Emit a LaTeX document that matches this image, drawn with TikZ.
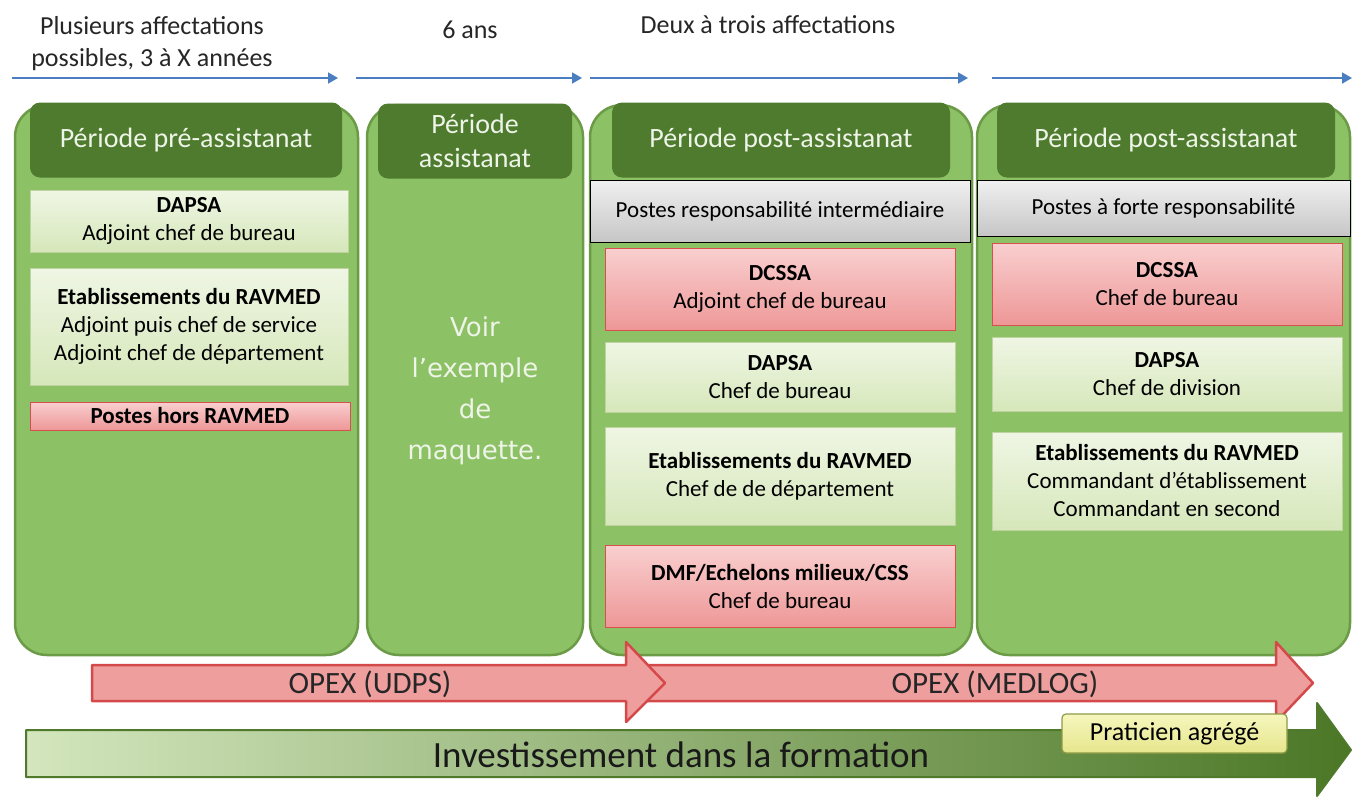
\documentclass[tikz,border=0pt]{standalone}
\usepackage{fontspec}
\setmainfont{Carlito}
\newfontfamily\voirfont{DejaVu Sans}
\usepackage{tikz}
\usetikzlibrary{arrows.meta}
\definecolor{panelgreen}{HTML}{8DC165}
\definecolor{panelline}{HTML}{6B9B47}
\definecolor{headgreen}{HTML}{4E7B2E}
\definecolor{headtext}{HTML}{EEF4E8}
\definecolor{postlight}{HTML}{EFF6E4}
\definecolor{postdark}{HTML}{D6E7BA}
\definecolor{postline}{HTML}{BFD3A0}
\definecolor{redlight}{HTML}{F9CFCF}
\definecolor{reddark}{HTML}{EE9797}
\definecolor{redline}{HTML}{D65050}
\definecolor{graylight}{HTML}{F0F0F0}
\definecolor{graydark}{HTML}{C6C6C6}
\definecolor{timeblue}{HTML}{4A7EC1}
\definecolor{arrowred}{HTML}{EF9E9E}
\definecolor{arrowredline}{HTML}{D44A4A}
\definecolor{formlight}{HTML}{D3E6BD}
\definecolor{formdark}{HTML}{4B7726}
\definecolor{formline}{HTML}{4F7A2B}
\definecolor{pratlight}{HTML}{F6F6BE}
\definecolor{pratdark}{HTML}{E6E68C}
\definecolor{pratline}{HTML}{8C9B45}
\tikzstyle{periode} = [draw=panelline, fill=panelgreen, line width=2.5pt, rounded corners=32pt, minimum height=550pt]
\tikzstyle{entete} = [fill=headgreen, text=headtext, rounded corners=10pt, align=center, inner sep=0pt, minimum height=75pt, font={\fontsize{28}{34}\selectfont}]
\tikzstyle{niveau} = [draw=black, line width=1pt, top color=graylight, bottom color=graydark, inner sep=0pt, font={\fontsize{23}{28}\selectfont}]
\tikzstyle{poste} = [draw=postline, top color=postlight, bottom color=postdark, align=center, inner sep=0pt, font={\fontsize{23}{28}\selectfont}]
\tikzstyle{horsposte} = [poste, draw=redline, line width=1pt, top color=redlight, bottom color=reddark]
\tikzstyle{duree} = [align=center, text=black!85, font={\fontsize{26}{32}\selectfont}]
\tikzstyle{frise} = [draw=timeblue, line width=1.8pt, -{Triangle[length=10pt,width=11pt]}]
\tikzstyle{opex} = [text=black!85, font={\fontsize{31}{36}\selectfont}]

\begin{document}
\begin{tikzpicture}[x=1pt,y=-1pt]
        \useasboundingbox (0,0) rectangle (1354,798);
        % durees et frise
        \node[duree](t1) at (152,44){Plusieurs affectations\\possibles, 3 à X années};
        \node[duree](t2) at (470,30){6 ans};
        \node[duree](t3) at (768,25){Deux à trois affectations};
        \coordinate (a0) at (12,78);
        \coordinate (a1) at (338,78);
        \coordinate (a2) at (356,78);
        \coordinate (a3) at (582,78);
        \coordinate (a4) at (590,78);
        \coordinate (a5) at (968,78);
        \coordinate (a6) at (992,78);
        \coordinate (a7) at (1352,78);
        \draw[frise](a0)--(a1);
        \draw[frise](a2)--(a3);
        \draw[frise](a4)--(a5);
        \draw[frise](a6)--(a7);
        % periodes
        \node[periode,minimum width=343pt](p1) at (186.5,380){};
        \node[periode,minimum width=216pt](p2) at (475,380){};
        \node[periode,minimum width=382pt](p3) at (781,380){};
        \node[periode,minimum width=373pt](p4) at (1163.5,380){};
        \node[entete,minimum width=312pt](e1) at (186,140){Période pré-assistanat};
        \node[entete,minimum width=194pt](e2) at (475,141){Période\\assistanat};
        \node[entete,minimum width=338pt](e3) at (781,140){Période post-assistanat};
        \node[entete,minimum width=338pt](e4) at (1166,140){Période post-assistanat};
        \node[niveau,minimum width=380pt,minimum height=62pt](n3) at (780,211){Postes responsabilité intermédiaire};
        \node[niveau,minimum width=373pt,minimum height=56pt](n4) at (1163.5,208){Postes à forte responsabilité};
        % pre-assistanat
        \node[poste,minimum width=318pt,minimum height=62pt](b1) at (189,221){\textbf{DAPSA}\\Adjoint chef de bureau};
        \node[poste,minimum width=318pt,minimum height=117pt](b2) at (189,326.5){\textbf{Etablissements du RAVMED}\\Adjoint puis chef de service\\Adjoint chef de département};
        \node[horsposte,minimum width=320pt,minimum height=28pt](b3) at (190,416){\textbf{Postes hors RAVMED}};
        \node[align=center,text=headtext,font={\voirfont\fontsize{26}{41}\selectfont}](voir) at (475,391){Voir\\l’exemple\\de\\maquette.};
        % post-assistanat
        \node[horsposte,minimum width=350pt,minimum height=82pt](c1) at (780,289){\textbf{DCSSA}\\Adjoint chef de bureau};
        \node[poste,minimum width=350pt,minimum height=70pt](c2) at (780,377.5){\textbf{DAPSA}\\Chef de bureau};
        \node[poste,minimum width=350pt,minimum height=98pt](c3) at (780,476){\textbf{Etablissements du RAVMED}\\Chef de de département};
        \node[horsposte,minimum width=350pt,minimum height=82pt](c4) at (780,586.5){\textbf{DMF/Echelons milieux/CSS}\\Chef de bureau};
        \node[horsposte,minimum width=350pt,minimum height=82pt](d1) at (1167,284){\textbf{DCSSA}\\Chef de bureau};
        \node[poste,minimum width=350pt,minimum height=74pt](d2) at (1167,374.5){\textbf{DAPSA}\\Chef de division};
        \node[poste,minimum width=350pt,minimum height=98pt](d3) at (1167,481){\textbf{Etablissements du RAVMED}\\Commandant d’établissement\\Commandant en second};
        % OPEX
        \draw[fill=arrowred,draw=arrowredline,line width=2.5pt,line join=round]
          (626,665)--(1276,665)--(1276,642)--(1313,683)--(1276,722)--(1276,701)--(626,701)--cycle;
        \draw[fill=arrowred,draw=arrowredline,line width=2.5pt,line join=round]
          (92,665)--(626,665)--(626,642)--(665,683)--(626,722)--(626,701)--(92,701)--cycle;
        \node[opex](opex1) at (370,684){OPEX (UDPS)};
        \node[opex](opex2) at (995,684){OPEX (MEDLOG)};
        % formation
        \draw[left color=formlight,middle color=panelgreen!85!formdark,right color=formdark,draw=formline,line width=2pt,line join=round]
          (26,730)--(1317,730)--(1317,703)--(1351,750)--(1317,796)--(1317,777)--(26,777)--cycle;
        \node[text=black!90,font={\fontsize{37}{42}\selectfont}](form) at (681,755){Investissement dans la formation};
        \node[draw=pratline,line width=1.2pt,top color=pratlight,bottom color=pratdark,rounded corners=4pt,minimum width=225pt,minimum height=39pt,font={\fontsize{26}{30}\selectfont}](agrege) at (1174.5,733.5){Praticien agrégé};
      \end{tikzpicture}
\end{document}
